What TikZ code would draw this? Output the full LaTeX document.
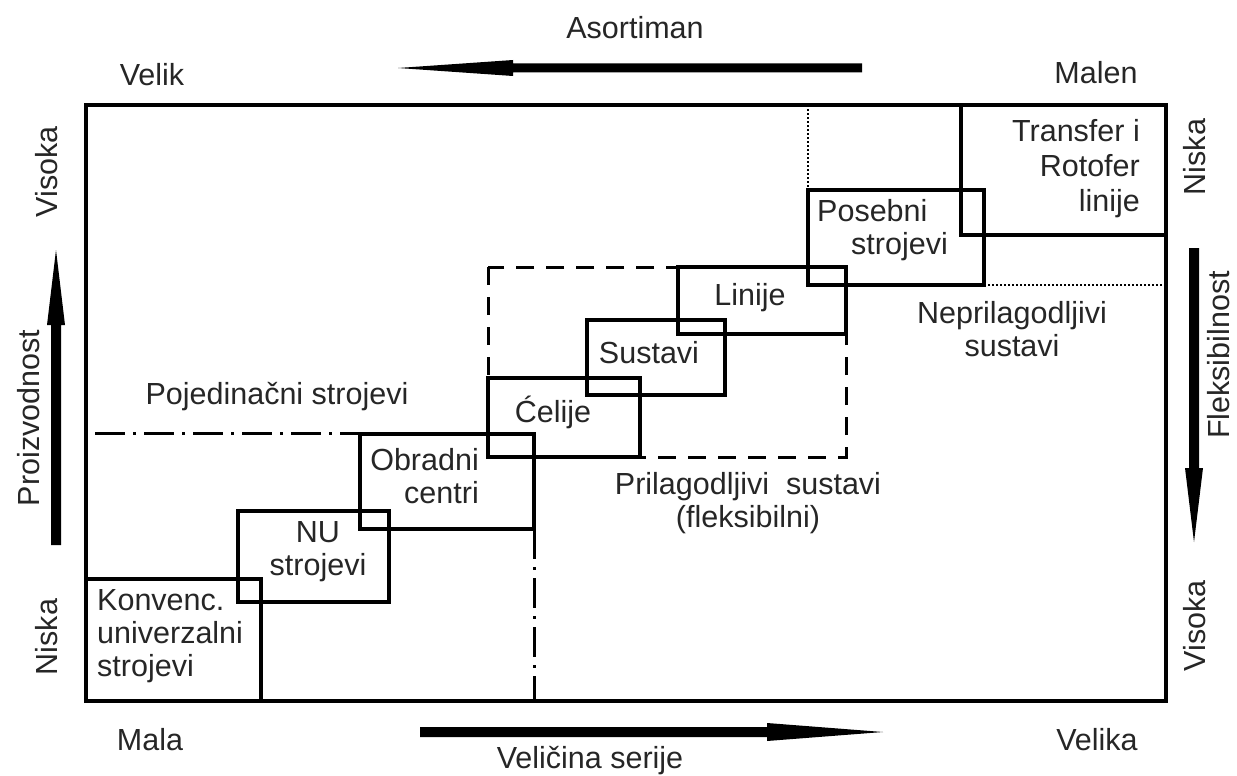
\documentclass[tikz,border=0pt]{standalone}
\usepackage{fontspec}
\setmainfont{Liberation Sans}
\begin{document}
\begin{tikzpicture}[x=1pt,y=-1pt,
  txt/.style={inner sep=0pt, font=\fontsize{30.5}{33}\selectfont, text=black!85},
  box/.style={draw=black, line width=3.2pt},
  frame/.style={draw=black, line width=3.8pt},
  dotline/.style={draw=black, line width=2.6pt, dash pattern=on 2pt off 2pt},
  dashline/.style={draw=black, line width=3pt, dash pattern=on 18pt off 12pt},
  dashdot/.style={draw=black, line width=3pt, dash pattern=on 30pt off 8pt on 3pt off 8pt},
  axarrow/.style={fill=black, draw=none}]
\useasboundingbox (0,0) rectangle (1237,776);
\fill[white] (0,0) rectangle (1237,776);

% frame
\draw[frame] (86,105) rectangle (1166,701);

% dotted lines
\coordinate (d1) at (808,105);
\coordinate (d2) at (808,190);
\coordinate (d3) at (984,285);
\coordinate (d4) at (1166,285);
\draw[dotline] (d1) -- (d2);
\draw[dotline] (d3) -- (d4);

% dashed rectangle (adaptive systems)
\draw[dashline] (488,267) rectangle (846,457);

% dash-dot lines
\coordinate (h1) at (95,433);
\coordinate (h2) at (360,433);
\coordinate (v1) at (534,529);
\coordinate (v2) at (534,701);
\draw[dashdot] (h1) -- (h2);
\draw[dashdot] (v1) -- (v2);

% boxes
\draw[box] (86,579) rectangle (261,701);
\draw[box] (238,511) rectangle (389,602);
\draw[box] (360,434) rectangle (534,529);
\draw[box] (488,378) rectangle (640,457);
\draw[box] (587,320) rectangle (725,395);
\draw[box] (678,267) rectangle (846,334);
\draw[box] (808,190) rectangle (984,285);
\draw[box] (961,105) rectangle (1166,235);

% box texts
\node[txt, anchor=west, align=left] (konv) at (97,636) {Konvenc.\\univerzalni\\strojevi};
\node[txt, align=center] (nu) at (318,552) {NU\\strojevi};
\node[txt, anchor=east, align=right] (obr) at (479,476) {Obradni\\centri};
\node[txt] (cel) at (553,412) {Ćelije};
\node[txt] (sus) at (649,353) {Sustavi};
\node[txt] (lin) at (750,298) {Linije};
\node[txt, anchor=west, align=left] (pos) at (817,230) {Posebni\\\hspace*{34pt}strojevi};
\node[txt, anchor=east, align=right, font=\fontsize{30.5}{35}\selectfont] (tra) at (1140,169) {Transfer i\\Rotofer\\linije};

% region labels
\node[txt] (poj) at (277,397) {Pojedinačni strojevi};
\node[txt, align=center] (nep) at (1012,329) {Neprilagodljivi\\sustavi};
\node[txt, align=center] (pri) at (748,503) {Prilagodljivi\ \ sustavi\\(fleksibilni)};

% axis labels
\node[txt] (aso) at (635,28) {Asortiman};
\node[txt] (velik) at (152,75) {Velik};
\node[txt] (malen) at (1096,73) {Malen};
\node[txt] (mala) at (150,740) {Mala};
\node[txt] (velika) at (1097,740) {Velika};
\node[txt] (vs) at (590,761) {Veličina serije};
\node[txt, rotate=90] (visL) at (47,172) {Visoka};
\node[txt, rotate=90] (nisL) at (47,637) {Niska};
\node[txt, rotate=90] (pro) at (29,418) {Proizvodnost};
\node[txt, rotate=90] (nisR) at (1195,157) {Niska};
\node[txt, rotate=90] (visR) at (1195,626) {Visoka};
\node[txt, rotate=90] (fle) at (1219,355) {Fleksibilnost};

% arrows (filled shapes)
% top: Asortiman, pointing left
\fill[axarrow] (862,63.5) -- (513,63.5) -- (513,60) -- (398,68) -- (513,76) -- (513,72.5) -- (862,72.5) -- cycle;
% bottom: Velicina serije, pointing right
\fill[axarrow] (420,727) -- (767,727) -- (767,723) -- (883,732) -- (767,741) -- (767,737) -- (420,737) -- cycle;
% left: Proizvodnost, pointing up
\fill[axarrow] (51,545) -- (51,325) -- (47,325) -- (56,250) -- (65,325) -- (61,325) -- (61,545) -- cycle;
% right: Fleksibilnost, pointing down
\fill[axarrow] (1189,248) -- (1189,468) -- (1185,468) -- (1194,542) -- (1203,468) -- (1199,468) -- (1199,248) -- cycle;
\end{tikzpicture}
\end{document}
